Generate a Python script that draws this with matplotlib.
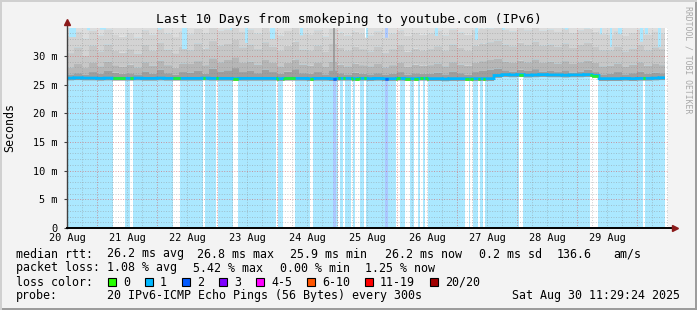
import numpy as np
import matplotlib
matplotlib.use("Agg")
import matplotlib.pyplot as plt
from matplotlib.patches import Rectangle

# ---- data: hours since 20 Aug 00:00, values in ms, 3 h blocks (8 per day) ----
day_labels = ["20 Aug", "21 Aug", "22 Aug", "23 Aug", "24 Aug",
              "25 Aug", "26 Aug", "27 Aug", "28 Aug", "29 Aug"]

median_ms = [
    26.15, 26.2, 26.15, 26.15, 26.1, 26.15, 26.1, 26.1,
    26.1, 26.15, 26.1, 26.1, 26.15, 26.1, 26.1, 26.1,
    26.1, 26.1, 26.15, 26.1, 26.1, 26.1, 26.05, 26.1,
    26.1, 26.1, 26.1, 26.1, 26.05, 26.1, 26.1, 26.1,
    26.05, 26.1, 26.1, 26.05, 26.1, 26.1, 26.05, 26.1,
    26.05, 26.1, 26.05, 26.05, 26.1, 26.05, 26.05, 26.1,
    26.05, 26.05, 26.0, 26.05, 26.05, 26.05, 26.05, 26.05,
    26.05, 26.6, 26.75, 26.7, 26.75, 26.65, 26.7, 26.75,
    26.7, 26.7, 26.65, 26.7, 26.7, 26.75, 26.6, 26.05,
    26.05, 26.05, 26.1, 26.05, 26.1, 26.1, 26.15, 26.2,
]
min_ms = [
    25.75, 25.8, 25.75, 25.75, 25.7, 25.75, 25.7, 25.7,
    25.7, 25.75, 25.7, 25.7, 25.75, 25.7, 25.7, 25.7,
    25.7, 25.7, 25.75, 25.7, 25.7, 25.7, 25.65, 25.7,
    25.7, 25.7, 25.7, 25.7, 25.65, 25.7, 25.7, 25.7,
    25.65, 25.7, 25.7, 25.65, 25.7, 25.7, 25.65, 25.7,
    25.65, 25.7, 25.65, 25.65, 25.7, 25.65, 25.65, 25.7,
    25.65, 25.65, 25.6, 25.65, 25.65, 25.65, 25.65, 25.65,
    25.65, 26.2, 26.35, 26.3, 26.35, 26.25, 26.3, 26.35,
    26.3, 26.3, 26.25, 26.3, 26.3, 26.35, 26.2, 25.65,
    25.65, 25.65, 25.7, 25.65, 25.7, 25.7, 25.75, 25.8,
]

smoke_a = [
    26.8, 27.0, 26.7, 27.2, 26.9, 27.4, 27.1, 26.9,
    27.0, 26.8, 27.3, 26.9, 27.6, 27.0, 26.8, 27.2,
    27.1, 27.4, 26.9, 27.8, 27.3, 27.5, 27.9, 27.2,
    27.4, 27.0, 27.6, 27.2, 26.9, 27.3, 27.7, 27.0,
    26.9, 27.2, 26.8, 27.5, 27.0, 26.8, 27.1, 26.9,
    26.8, 27.0, 26.7, 26.9, 27.2, 26.8, 27.0, 26.9,
    26.9, 27.1, 26.8, 27.3, 27.0, 26.8, 27.2, 27.4,
    27.6, 27.8, 27.5, 27.3, 27.6, 27.4, 27.7, 27.3,
    27.4, 27.2, 27.5, 27.1, 27.3, 27.6, 27.2, 26.8,
    26.9, 27.2, 26.8, 27.0, 27.3, 26.9, 27.1, 27.0,
]
smoke_b = [
    28.0, 28.6, 27.9, 28.8, 28.2, 29.0, 28.4, 28.1,
    28.5, 28.0, 28.9, 28.3, 29.2, 28.4, 28.0, 28.7,
    28.6, 29.1, 28.4, 29.6, 28.9, 29.3, 29.8, 28.8,
    29.0, 28.5, 29.3, 28.8, 28.2, 28.9, 29.4, 28.5,
    28.3, 28.8, 28.1, 29.0, 28.5, 28.2, 28.7, 28.4,
    28.2, 28.6, 28.0, 28.4, 28.8, 28.1, 28.5, 28.3,
    28.4, 28.7, 28.2, 28.9, 28.5, 28.3, 28.8, 29.1,
    29.3, 29.5, 29.0, 28.8, 29.2, 28.9, 29.4, 28.8,
    29.0, 28.7, 29.1, 28.6, 28.9, 29.2, 28.8, 28.2,
    28.3, 28.7, 28.1, 28.5, 28.9, 28.3, 28.6, 28.4,
]
smoke_c = [
    30.5, 31.5, 30.0, 31.8, 30.8, 32.0, 31.0, 30.6,
    31.2, 30.4, 31.9, 30.9, 32.3, 31.1, 30.5, 31.6,
    31.0, 32.2, 31.3, 32.6, 31.8, 32.1, 32.8, 31.5,
    32.0, 31.2, 32.4, 31.6, 30.9, 31.8, 32.5, 31.1,
    31.0, 31.8, 30.7, 32.1, 31.4, 30.9, 31.6, 31.2,
    30.8, 31.6, 30.5, 31.2, 31.9, 30.8, 31.3, 31.0,
    31.2, 31.7, 30.9, 32.0, 31.4, 31.0, 31.8, 32.2,
    32.4, 32.7, 32.0, 31.7, 32.3, 31.9, 32.5, 31.8,
    32.0, 31.6, 32.2, 31.4, 31.9, 32.3, 31.7, 31.0,
    31.0, 31.6, 30.8, 31.3, 31.9, 31.0, 31.5, 31.2,
]
smoke_d = [
    33.5, 34.2, 33.0, 34.4, 33.6, 34.6, 33.8, 33.4,
    34.0, 33.2, 34.5, 33.7, 34.8, 33.9, 33.3, 34.3,
    33.8, 34.7, 34.0, 34.9, 34.4, 34.6, 35.0, 34.2,
    34.6, 33.9, 34.9, 34.3, 33.6, 34.5, 34.9, 33.8,
    33.8, 34.5, 33.4, 34.7, 34.1, 33.6, 34.3, 33.9,
    33.6, 34.3, 33.2, 33.9, 34.5, 33.5, 34.0, 33.7,
    33.9, 34.4, 33.6, 34.6, 34.1, 33.7, 34.5, 34.8,
    34.8, 35.0, 34.6, 34.3, 34.9, 34.5, 34.9, 34.4,
    34.6, 34.2, 34.8, 34.0, 34.5, 34.8, 34.3, 33.8,
    33.7, 34.3, 33.5, 34.0, 34.6, 33.7, 34.2, 33.9,
]

# periods (start h, end h) with 0/20 lost, and with 2/20 lost; otherwise 1/20
zero_loss = [(18.4, 23.2), (25.2, 26.4), (42.4, 45.2), (54.4, 55.2), (59.6, 60.4),
             (66.4, 68.4), (83.6, 84.4), (86.4, 91.2), (97.2, 98.4), (108.4, 109.2),
             (110.4, 111.2), (113.6, 114.4), (115.2, 117.2), (118.8, 119.6),
             (131.6, 133.2), (135.2, 137.2), (138.8, 140.4), (141.2, 142.4),
             (143.2, 144.4), (159.2, 160.8), (161.2, 162.4), (164.4, 165.2),
             (166.4, 167.2), (180.8, 182.4), (209.2, 212.4), (230.4, 231.2)]
loss_two = [(106.4, 107.6), (127.2, 128.4)]
# short periods where the slowest ping stayed below the top of the graph
max_dips = [(0.8, 3.6, 33.3), (8.0, 9.2, 34.5), (13.2, 15.6, 34.6), (36.4, 37.6, 34.6),
            (46.0, 48.0, 31.2), (65.2, 66.0, 34.5), (71.2, 72.4, 32.3), (81.2, 83.2, 33.0),
            (93.2, 94.4, 33.6), (119.2, 120.4, 33.2), (127.2, 128.4, 33.2),
            (147.2, 148.4, 33.5), (163.2, 164.4, 32.8), (174.0, 175.2, 34.6),
            (199.2, 200.4, 34.6), (213.2, 214.0, 33.8), (217.2, 218.0, 31.6),
            (220.4, 222.0, 33.8), (229.2, 230.4, 32.5), (231.2, 232.4, 33.8),
            (236.4, 237.6, 31.6)]
spikes = [(106.4, 107.2)]

loss_colors = ["#26ff00", "#00b8ff", "#0059ff", "#7e00ff", "#ff00ff",
               "#ff5500", "#ff0000", "#a10000"]
loss_names = ["0", "1", "2", "3", "4-5", "6-10", "11-19", "20/20"]

# ---- layout ----
W, H = 697, 310
fig = plt.figure(figsize=(W / 100, H / 100), dpi=100, facecolor="#f3f3f3")
ax = fig.add_axes([67 / W, 1 - 228 / H, 601 / W, 200 / H])
ax.set_facecolor("white")
ytop = 200 / 5.733
xmax = 240.4
ax.set_xlim(0, xmax)
ax.set_ylim(0, ytop)

step = 0.4
edges = np.arange(0, 239.2 + step / 2, step)
cent = (edges[:-1] + edges[1:]) / 2
blk = (cent // 3).astype(int)

loss = np.ones(len(cent), int)
for a, b in zero_loss:
    loss[(cent >= a) & (cent < b)] = 0
for a, b in loss_two:
    loss[(cent >= a) & (cent < b)] = 2

top = np.full(len(cent), ytop + 1)
for a, b, v in max_dips:
    top[(cent >= a) & (cent < b)] = v

med = np.array(median_ms)[blk]
lo = np.array(min_ms)[blk]
qa = np.minimum(np.array(smoke_a)[blk], top)
qb = np.minimum(np.array(smoke_b)[blk], top)
qc = np.minimum(np.array(smoke_c)[blk], top)
qd = np.minimum(np.array(smoke_d)[blk], top)
for a, b in spikes:
    m = (cent >= a) & (cent < b)
    qa[m] = qb[m] = qc[m] = qd[m] = top[m]


def light(c, alpha=0.33):
    rgb = np.array(matplotlib.colors.to_rgb(c))
    return tuple(1 - alpha + alpha * rgb)


# loss background
for lvl in (1, 2):
    ax.stairs(np.where(loss == lvl, ytop, 0), edges, baseline=0, fill=True,
              color=light(loss_colors[lvl]), lw=0, zorder=1)

# smoke
layers = [(lo, med, "#9a9a9a"), (med, qa, "#9e9e9e"), (qa, qb, "#b6b6b6"),
          (qb, qc, "#c7c7c7"), (qc, qd, "#d3d3d3"), (qd, top, "#dddddd")]
for bottom, upper, col in layers:
    ax.stairs(upper, edges, baseline=bottom, fill=True, color=col, lw=0, zorder=2)

# grid
dot = (0, (1, 1.6))
hx = np.arange(6, xmax, 6)
ax.vlines(hx[(hx % 24) != 12], 0, ytop, colors=(0.55, 0.55, 0.55, 0.45), lw=0.7,
          linestyles=[dot], zorder=3)
ax.vlines(hx[(hx % 24) == 12], 0, ytop, colors=(0.85, 0.3, 0.3, 0.55), lw=0.7,
          linestyles=[dot], zorder=3)
hy = np.arange(1, ytop, 1)
ax.hlines(hy[(hy % 5) != 0], 0, xmax, colors=(0.55, 0.55, 0.55, 0.45), lw=0.7,
          linestyles=[dot], zorder=3)
ax.hlines(hy[(hy % 5) == 0], 0, xmax, colors=(0.85, 0.3, 0.3, 0.55), lw=0.7,
          linestyles=[dot], zorder=3)

# median line coloured by loss
ax.stairs(med, edges, baseline=None, color=loss_colors[1], lw=2.0, zorder=4)
for lvl in (0, 2):
    m = loss == lvl
    ax.hlines(med[m], edges[:-1][m], edges[1:][m], colors=loss_colors[lvl],
              lw=2.0, zorder=5)

# axes, ticks, arrows
for s in ax.spines.values():
    s.set_visible(False)
ax.plot([0, 0], [0, 1.03], transform=ax.transAxes, color="#404040", lw=1,
        clip_on=False, zorder=6)
ax.plot([0, 1.008], [0, 0], transform=ax.transAxes, color="black", lw=1.4,
        clip_on=False, zorder=6)
ax.plot([0], [1.03], marker="^", ms=5, color="#8b1a1a", transform=ax.transAxes,
        clip_on=False, zorder=7)
ax.plot([1.012], [0], marker=">", ms=5, color="#8b1a1a", transform=ax.transAxes,
        clip_on=False, zorder=7)

mono = "DejaVu Sans Mono"
fs = 8.4
tfs = 7.4
ax.set_xticks(np.arange(0, 240, 24))
ax.set_xticklabels(day_labels, fontfamily=mono, fontsize=tfs)
ax.set_yticks(np.arange(0, 31, 5))
ax.set_yticklabels(["0"] + [f"{v} m" for v in range(5, 31, 5)],
                   fontfamily=mono, fontsize=tfs)
ax.tick_params(axis="x", length=0, pad=3.5)
ax.tick_params(axis="y", length=2, pad=5, color="#404040")

# ---- texts ----
def px(x, y, s, **kw):
    kw.setdefault("fontfamily", mono)
    kw.setdefault("fontsize", fs)
    kw.setdefault("va", "center")
    fig.text(x / W, 1 - y / H, s, **kw)


px(348.5, 19, "Last 10 Days from smokeping to youtube.com (IPv6)", fontsize=9.4,
   ha="center")
px(10, 128, "Seconds", rotation=90, ha="center")
px(688, 60, "RRDTOOL / TOBI OETIKER", rotation=270, ha="center", fontsize=5.9,
   color="#a8a8a8")

row1 = [(16, "median rtt:"), (107, "26.2 ms avg"), (197, "26.8 ms max"),
        (290, "25.9 ms min"), (385, "26.2 ms now"), (479, "0.2 ms sd"),
        (557, "136.6"), (613, "am/s")]
row2 = [(16, "packet loss:"), (107, "1.08 % avg"), (193, "5.42 % max"),
        (280, "0.00 % min"), (365, "1.25 % now")]
for x, s in row1:
    px(x, 254, s)
for x, s in row2:
    px(x, 268, s)
px(16, 282, "loss color:")
box_x = [108, 145, 182, 219, 256, 307, 365, 430]
for bx, c, name in zip(box_x, loss_colors, loss_names):
    fig.patches.append(Rectangle((bx / W, 1 - 285.5 / H), 8 / W, 8 / H,
                                 transform=fig.transFigure, facecolor=c,
                                 edgecolor="black", lw=0.8))
    px(bx + 15, 282, name)
px(16, 296, "probe:")
px(107, 296, "20 IPv6-ICMP Echo Pings (56 Bytes) every 300s")
px(680, 296, "Sat Aug 30 11:29:24 2025", ha="right")

# 3d frame
fig.patches.append(Rectangle((0, 0), 1, 2 / H, transform=fig.transFigure,
                             facecolor="#9c9c9c", lw=0))
fig.patches.append(Rectangle((1 - 2 / W, 0), 2 / W, 1, transform=fig.transFigure,
                             facecolor="#9c9c9c", lw=0))
fig.patches.append(Rectangle((0, 1 - 2 / H), 1, 2 / H, transform=fig.transFigure,
                             facecolor="#d0d0d0", lw=0))
fig.patches.append(Rectangle((0, 0), 2 / W, 1, transform=fig.transFigure,
                             facecolor="#d0d0d0", lw=0))

fig.savefig("out.png", dpi=100, facecolor=fig.get_facecolor())
